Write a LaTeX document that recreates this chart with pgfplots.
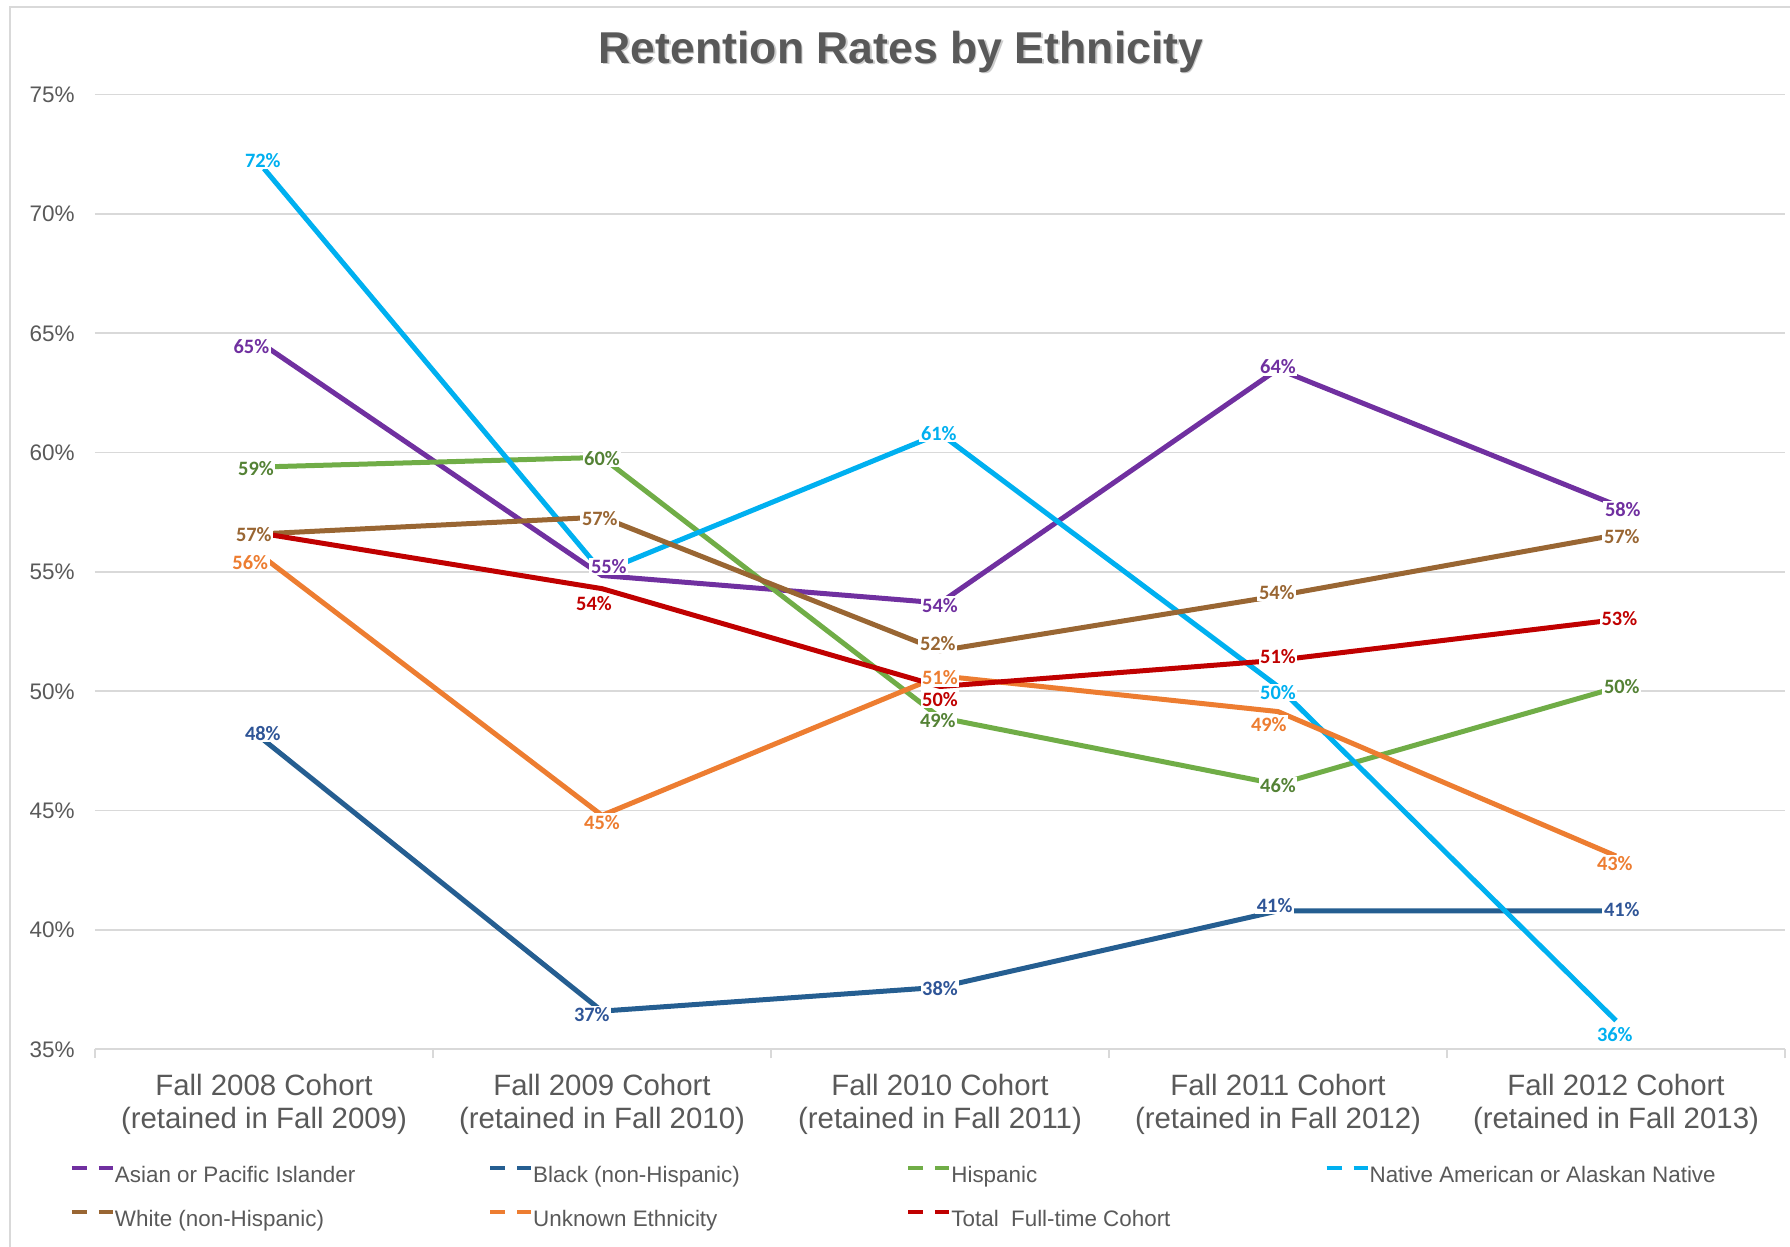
\documentclass[border=0pt]{standalone}
\usepackage{pgfplots}
\pgfplotsset{compat=1.18}
\usepackage{pgfplotstable}
\usepackage{fontspec}
\setmainfont{Liberation Sans}
\newfontfamily\lab{Carlito}

\definecolor{gridgray}{HTML}{D9D9D9}
\definecolor{txtgray}{HTML}{595959}
\definecolor{casian}{HTML}{7030A0}
\definecolor{cblack}{HTML}{255E91}
\definecolor{cblacklab}{HTML}{2F5597}
\definecolor{chisp}{HTML}{70AD47}
\definecolor{chisplab}{HTML}{548235}
\definecolor{cnative}{HTML}{00B0F0}
\definecolor{cwhite}{HTML}{996633}
\definecolor{cunk}{HTML}{ED7D31}
\definecolor{ctotal}{HTML}{C00000}

% x = cohort, y = retention (%), lab = printed label, dx/dy = label nudge in pt
\pgfplotstableread{
x y lab dx dy
0 64.5 65 -6.3 -0.6
1 54.85 55 3.4 4.6
2 53.7 54 0 -1.1
3 63.5 64 0 1.1
4 57.8 58 3.4 -2.3
}\asian
\pgfplotstableread{
x y lab dx dy
0 47.95 48 -0.6 3.4
1 36.6 37 -5.1 -1.7
2 37.6 38 0 -0.6
3 40.8 41 -1.7 2.9
4 40.8 41 2.9 0.6
}\black
\pgfplotstableread{
x y lab dx dy
0 59.4 59 -4 -0.6
1 59.8 60 0 -0.6
2 48.9 49 -1.1 -1.7
3 46.1 46 0 -0.6
4 50.15 50 2.9 0.6
}\hisp
\pgfplotstableread{
x y lab dx dy
0 71.9 72 -0.6 4
1 55.0 55 0 0
2 60.8 61 -0.6 0
3 50.2 50 0 -2.9
4 36.2 36 -0.6 -6.9
}\native
\pgfplotstableread{
x y lab dx dy
0 56.6 57 -5.1 -0.6
1 57.3 57 -1.1 -0.6
2 51.7 52 -1.1 3.4
3 54.0 54 -0.6 1.7
4 56.55 57 2.9 -0.6
}\white
\pgfplotstableread{
x y lab dx dy
0 55.6 56 -6.9 -2.3
1 44.8 45 0 -3.4
2 50.65 51 0 -1.1
3 49.15 49 -4.6 -6.3
4 43.1 43 -0.6 -4
}\unknown
\pgfplotstableread{
x y lab dx dy
0 56.6 57 0 0
1 54.3 54 -4 -7.4
2 50.2 50 0 -6.3
3 51.3 51 0 1.7
4 53.0 53 1.7 0.6
}\total

\pgfplotsset{
  serie/.style={color=#1, line width=2.5pt, line join=round, mark=none},
  datalab/.style={draw=none, mark=none, forget plot, nodes near coords={\pgfplotspointmeta\%},
    point meta=explicit symbolic,
    visualization depends on={\thisrow{dx} \as \labdx},
    visualization depends on={\thisrow{dy} \as \labdy},
    every node near coord/.append style={anchor=center, fill=white, inner sep=0.8pt,
      font=\lab\bfseries\fontsize{10.2}{12}\selectfont, text=#1,
      xshift=\labdx pt, yshift=\labdy pt}},
}

\begin{document}
\begin{tikzpicture}
\path[use as bounding box] (-47.5pt,-98.85pt) rectangle (847.5pt,524.65pt);
\begin{axis}[
    at={(0pt,0pt)}, anchor=south west,
    width=845pt, height=477.35pt, scale only axis,
    xmin=-0.5, xmax=4.5, ymin=35, ymax=75,
    axis line style={draw=none},
    ymajorgrids, grid style={gridgray, line width=0.8pt},
    ytick={35,40,...,75},
    yticklabels={35\%,40\%,45\%,50\%,55\%,60\%,65\%,70\%,75\%},
    xtick={0,...,4},
    xticklabels={{Fall 2008 Cohort\\(retained in Fall 2009)},
                 {Fall 2009 Cohort\\(retained in Fall 2010)},
                 {Fall 2010 Cohort\\(retained in Fall 2011)},
                 {Fall 2011 Cohort\\(retained in Fall 2012)},
                 {Fall 2012 Cohort\\(retained in Fall 2013)}},
    minor xtick={-0.5,0.5,...,4.5},
    major tick length=0pt, minor tick length=4.5pt,
    xtick align=outside, tick pos=left,
    minor tick style={gridgray, line width=0.8pt},
    yticklabel style={anchor=east, inner sep=0pt, xshift=-10pt,
      font=\fontsize{11.25}{13}\selectfont, text=txtgray},
    xticklabel style={align=center, anchor=north, inner sep=0pt, yshift=-12.3pt,
      font=\fontsize{14.7}{16.5}\selectfont, text=txtgray},
    clip=false,
    legend columns=4,
    legend style={at={(0,0)}, anchor=north west, xshift=-12.5pt, yshift=-57.9pt,
      draw=none, fill=none, inner sep=0pt, outer sep=0pt, row sep=11pt,
      font=\fontsize{11.2}{13}\selectfont, text=txtgray,
      nodes={inner sep=0pt, text height=8.5pt, text depth=2.5pt},
      /tikz/every odd column/.append style={column sep=0pt}},
    legend cell align=left,
    legend image code/.code={
      \draw[#1, line width=2pt, dash pattern=on 7.5pt off 6pt] (0pt,4pt) -- (20.5pt,4pt);},
]
\addplot[serie=casian] table[x=x, y=y] {\asian};
\addlegendentry{\makebox[186.6pt][l]{Asian or Pacific Islander}}
\addplot[serie=cblack] table[x=x, y=y] {\black};
\addlegendentry{\makebox[186.6pt][l]{Black (non-Hispanic)}}
\addplot[serie=chisp] table[x=x, y=y] {\hisp};
\addlegendentry{\makebox[186.6pt][l]{Hispanic}}
\addplot[serie=cnative] table[x=x, y=y] {\native};
\addlegendentry{\makebox[186.6pt][l]{Native American or Alaskan Native}}
\addplot[serie=cwhite] table[x=x, y=y] {\white};
\addlegendentry{\makebox[186.6pt][l]{White (non-Hispanic)}}
\addplot[serie=cunk] table[x=x, y=y] {\unknown};
\addlegendentry{\makebox[186.6pt][l]{Unknown Ethnicity}}
\addplot[serie=ctotal] table[x=x, y=y] {\total};
\addlegendentry{\makebox[186.6pt][l]{Total\ \ Full-time Cohort}}

% data labels on top of every line
\addplot[datalab=casian] table[x=x, y=y, meta=lab] {\asian};
\addplot[datalab=cblacklab] table[x=x, y=y, meta=lab] {\black};
\addplot[datalab=chisplab] table[x=x, y=y, meta=lab] {\hisp};
\addplot[datalab=cnative, skip coords between index={1}{2}] table[x=x, y=y, meta=lab] {\native};
\addplot[datalab=cwhite] table[x=x, y=y, meta=lab] {\white};
\addplot[datalab=cunk] table[x=x, y=y, meta=lab] {\unknown};
\addplot[datalab=ctotal, skip coords between index={0}{1}] table[x=x, y=y, meta=lab] {\total};

\node[anchor=base, yshift=15.6pt, text=gray!40, xshift=0.7pt, yshift=-0.7pt,
  font=\bfseries\fontsize{22.3}{26}\selectfont]
  at (rel axis cs:0.4769,1) {Retention Rates by Ethnicity};
\node[anchor=base, yshift=15.6pt, text=txtgray,
  font=\bfseries\fontsize{22.3}{26}\selectfont]
  at (rel axis cs:0.4769,1) {Retention Rates by Ethnicity};
\end{axis}
\draw[gridgray, line width=0.9pt] (-42.5pt,-98.85pt) -- (-42.5pt,521.15pt) -- (847.5pt,521.15pt);
\end{tikzpicture}
\end{document}
